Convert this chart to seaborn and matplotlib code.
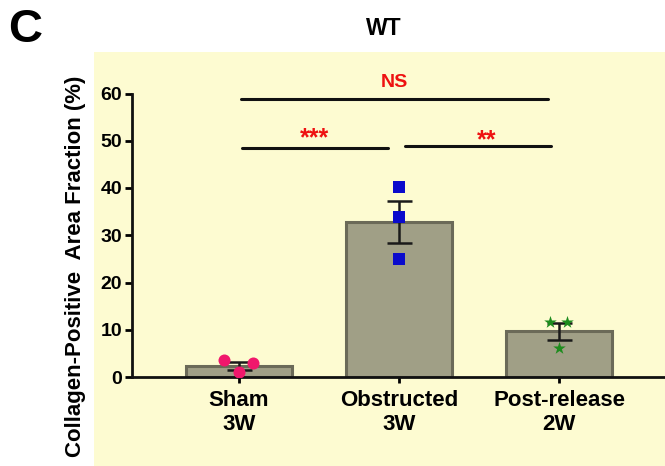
import numpy as np
import matplotlib
matplotlib.use('Agg')
import matplotlib.pyplot as plt
from matplotlib.patches import Rectangle
import seaborn as sb

# values
groups = ['Sham\n3W', 'Obstructed\n3W', 'Post-release\n2W']
means = [2.3, 32.8, 9.7]
sems = [0.8, 4.5, 1.8]
sham_pts = [3.5, 2.9, 1.0]
obstructed_pts = [40.2, 33.8, 24.9]
release_pts = [11.7, 11.7, 6.1]
yticks = [0, 10, 20, 30, 40, 50, 60]

sb.set_style('ticks')
plt.rcParams['font.family'] = ['Liberation Sans', 'DejaVu Sans']
plt.rcParams['font.weight'] = 'bold'
plt.rcParams['text.color'] = 'black'
plt.rcParams['xtick.color'] = 'black'
plt.rcParams['ytick.color'] = 'black'
plt.rcParams['axes.labelcolor'] = 'black'

fig = plt.figure(figsize=(6.65, 4.66), dpi=100)
# pale yellow panel behind the plot
fig.patches.append(Rectangle((94 / 665, 0), 1, 1 - 52 / 466, transform=fig.transFigure,
                             facecolor='#fdfbd1', edgecolor='none', zorder=-10))

ax = fig.add_axes([132 / 665, 1 - 377 / 466, 533 / 665, (377 - 93.5) / 466])
ax.set_facecolor('none')
ax.set_zorder(5)

sb.barplot(x=groups, y=means, width=0.66, color='#a09f86', edgecolor='#6b6a58',
           linewidth=2.2, errorbar=None, saturation=1, ax=ax)
ax.errorbar(range(len(groups)), means, yerr=sems, fmt='none', ecolor='#1a1a1a',
            elinewidth=1.8, capsize=9, capthick=1.8, zorder=3)

# individual animals
ax.scatter(np.array([-0.094, 0.088, 0.0]), sham_pts, s=75, marker='o',
           color='#f0186c', zorder=4, linewidths=0)
ax.scatter(np.array([1.0, 1.0, 1.0]), obstructed_pts, s=70, marker='s',
           color='#0a0acc', zorder=4, linewidths=0)
ax.scatter(np.array([1.945, 2.05, 2.0]), release_pts, s=90, marker='*',
           color='#1e8c1e', zorder=4, linewidths=0)

ax.set_xlim(-0.669, 2.6625)
ax.set_ylim(0, 60)
ax.set_yticks(yticks)
ax.set_xlabel('')
ax.set_ylabel('Collagen-Positive  Area Fraction (%)', fontsize=16, fontweight='bold',
              va='center')
ax.yaxis.set_label_coords(-0.106, 0.391)

for s in ['top', 'right']:
    ax.spines[s].set_visible(False)
for s in ['left', 'bottom']:
    ax.spines[s].set_linewidth(2)
    ax.spines[s].set_color('#111111')
ax.spines['left'].set_bounds(0, 60)
ax.tick_params(axis='y', length=5, width=2, labelsize=14, pad=2)
ax.tick_params(axis='x', length=4, width=2, labelsize=16, pad=5)
for lab in ax.get_xticklabels() + ax.get_yticklabels():
    lab.set_fontweight('bold')

# significance brackets
red = '#ee1111'
ax.plot([0.0125, 1.93], [58.8, 58.8], color='#111111', lw=2.2, clip_on=False)
ax.text(0.97, 61.4, 'NS', color=red, fontsize=14, fontweight='bold', ha='center',
        va='baseline')
ax.plot([0.02, 0.93], [48.4, 48.4], color='#111111', lw=2.2, clip_on=False)
ax.text(0.47, 49.0, '***', color=red, fontsize=18, fontweight='bold', ha='center',
        va='baseline')
ax.plot([1.04, 1.95], [48.9, 48.9], color='#111111', lw=2.2, clip_on=False)
ax.text(1.55, 48.6, '**', color=red, fontsize=18, fontweight='bold', ha='center',
        va='baseline')

fig.text(383.5 / 665, 1 - 28.5 / 466, 'WT', fontsize=16.5, fontweight='bold', ha='center',
         va='center')
fig.text(25 / 665, 1 - 29.5 / 466, 'C', fontsize=34, fontweight='bold', ha='center',
         va='center')

fig.savefig('out.png', dpi=100)
